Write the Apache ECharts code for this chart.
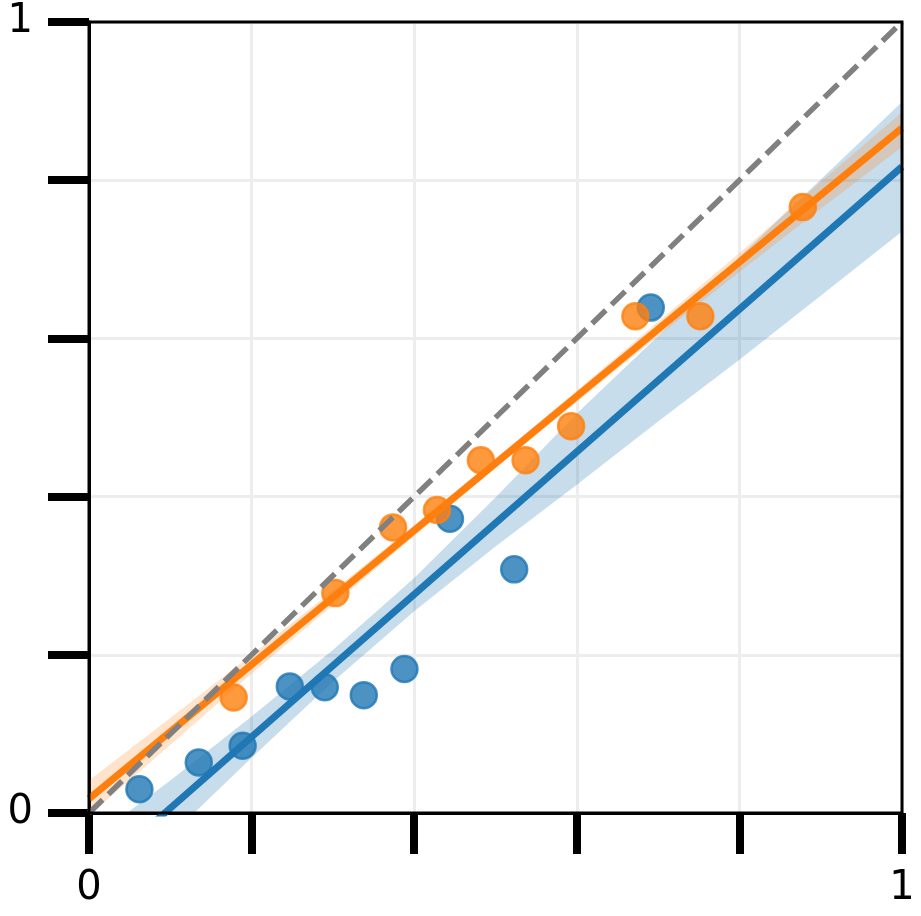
<!DOCTYPE html>
<html>
<head>
<meta charset="utf-8">
<script src="https://cdn.jsdelivr.net/npm/echarts@6/dist/echarts.min.js"></script>
<style>
  html, body { margin: 0; padding: 0; background: #fff; }
  #chart { width: 921px; height: 916px; }
</style>
</head>
<body>
<div id="chart"></div>
<script>
// scatter points
const blueX = [0.062, 0.135, 0.189, 0.247, 0.290, 0.338, 0.388, 0.444, 0.523, 0.691];
const blueY = [0.030, 0.064, 0.085, 0.160, 0.159, 0.149, 0.182, 0.372, 0.308, 0.639];
const orangeX = [0.178, 0.303, 0.374, 0.428, 0.482, 0.537, 0.593, 0.672, 0.752, 0.878];
const orangeY = [0.146, 0.278, 0.361, 0.383, 0.446, 0.446, 0.489, 0.628, 0.628, 0.766];

// fitted lines (ends at x = 0 and x = 1)
const fitX = [0, 1];
const blueFit = [-0.084, 0.817];
const orangeFit = [0.018, 0.866];
const diagonal = [0, 1];

// confidence bands, read at these x positions
const bandX = [0, 0.1, 0.2, 0.3, 0.4, 0.5, 0.6, 0.7, 0.8, 0.9, 1];
const blueUpper = [-0.036, 0.041, 0.122, 0.206, 0.297, 0.399, 0.505, 0.603, 0.703, 0.801, 0.899];
const blueLower = [-0.132, -0.029, 0.070, 0.166, 0.255, 0.337, 0.415, 0.495, 0.573, 0.654, 0.735];
const orangeUpper = [0.041, 0.120, 0.200, 0.281, 0.364, 0.448, 0.534, 0.621, 0.708, 0.798, 0.886];
const orangeLower = [-0.003, 0.086, 0.176, 0.263, 0.350, 0.436, 0.520, 0.603, 0.684, 0.764, 0.842];

const tickLabels = ['0', '', '', '', '', '1'];

const BLUE = '#1f77b4';
const ORANGE = '#ff7f0e';

const pairs = (xs, ys) => xs.map((x, i) => [x, ys[i]]);

// band polygon: upper edge left to right, lower edge back
const band = (upper, lower, fill, z) => ({
    type: 'custom',
    clip: true,
    z: z,
    silent: true,
    data: [[0, 0]],
    renderItem: (params, api) => {
        const top = bandX.map((x, i) => api.coord([x, upper[i]]));
        const bottom = bandX.map((x, i) => api.coord([x, lower[i]])).reverse();
        return {
            type: 'polygon',
            shape: { points: top.concat(bottom) },
            style: { fill: fill }
        };
    }
});

const scatter = (xs, ys, color, z) => ({
    type: 'scatter',
    z: z,
    symbolSize: 26,
    itemStyle: {
        color: color,
        borderColor: color,
        borderWidth: 2.5,
        opacity: 0.8
    },
    data: pairs(xs, ys)
});

const fitLine = (ys, color, z) => ({
    type: 'line',
    z: z,
    clip: true,
    showSymbol: false,
    lineStyle: { color: color, width: 7 },
    data: pairs(fitX, ys)
});

const tickFormatter = (v) => tickLabels[Math.round(v / 0.2)] || '';

const axisCommon = {
    type: 'value',
    min: 0,
    max: 1,
    interval: 0.2,
    axisLine: { show: true, lineStyle: { color: '#000', width: 3 } },
    axisTick: { show: true, inside: false, length: 41, lineStyle: { color: '#000', width: 8 } },
    splitLine: { show: true, lineStyle: { color: '#ededed', width: 3 } },
    axisLabel: {
        formatter: tickFormatter,
        color: '#000',
        fontFamily: 'DejaVu Sans',
        fontSize: 40,
        showMinLabel: true,
        showMaxLabel: true
    }
};

const chart = echarts.init(document.getElementById('chart'));
chart.setOption({
    animation: false,
    backgroundColor: '#fff',
    grid: {
        left: 89,
        top: 22,
        width: 813,
        height: 791,
        show: true,
        borderColor: '#000',
        borderWidth: 3,
        z: 10
    },
    xAxis: Object.assign({}, axisCommon, {
        axisLabel: Object.assign({}, axisCommon.axisLabel, { margin: 56 })
    }),
    yAxis: Object.assign({}, axisCommon, {
        axisLabel: Object.assign({}, axisCommon.axisLabel, { margin: 56 })
    }),
    series: [
        scatter(blueX, blueY, BLUE, 2),
        band(blueUpper, blueLower, 'rgba(31,119,180,0.25)', 3),
        fitLine(blueFit, BLUE, 4),
        scatter(orangeX, orangeY, ORANGE, 5),
        band(orangeUpper, orangeLower, 'rgba(255,127,14,0.22)', 6),
        fitLine(orangeFit, ORANGE, 7),
        {
            type: 'line',
            z: 8,
            showSymbol: false,
            lineStyle: { color: '#808080', width: 5.5, type: [19, 8] },
            data: pairs(diagonal, diagonal)
        }
    ]
});
</script>
</body>
</html>
